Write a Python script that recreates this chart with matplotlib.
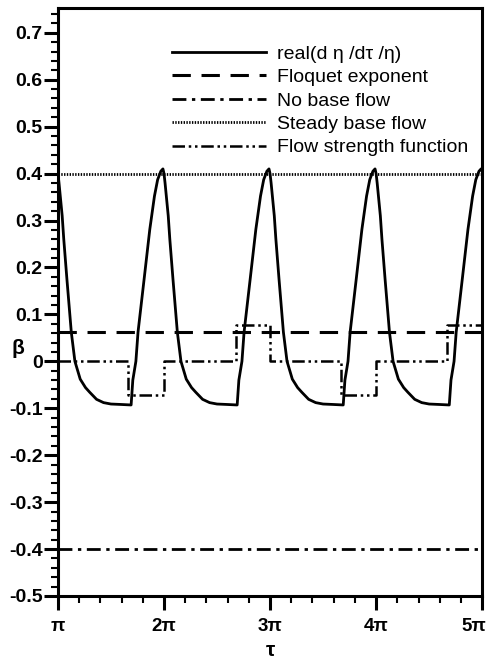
import numpy as np
import matplotlib
matplotlib.use("Agg")
import matplotlib.pyplot as plt
from matplotlib.ticker import FixedLocator, MultipleLocator, FuncFormatter
from matplotlib.transforms import ScaledTranslation

# tau is in units of pi
# one cycle of real(d eta/d tau / eta) (offset from k*pi)
cycle_offset = [0.0, 0.01, 0.025, 0.04, 0.055, 0.085, 0.126, 0.16, 0.21,
                0.26, 0.30, 0.364, 0.43, 0.50, 0.60, 0.69, 0.706, 0.735,
                0.755, 0.812, 0.866, 0.91, 0.94, 0.97, 0.99]
cycle_beta = [0.40, 0.38, 0.345, 0.31, 0.26, 0.174, 0.062, 0.0, -0.038,
              -0.056, -0.066, -0.081, -0.088, -0.091, -0.092, -0.093, -0.04, 0.0,
              0.062, 0.174, 0.281, 0.352, 0.387, 0.405, 0.41]
cycle_start = [1, 2, 3, 4]
end_tau = 5.0
end_beta = 0.405

floquet = 0.062
no_base_flow = -0.4
steady_base_flow = 0.4

# flow strength function (step)
strength_tau = [1.0, 1.665, 2.0, 2.675, 3.0, 3.67, 4.0, 4.67, 5.0]
strength_beta = [0.0, -0.072, 0.0, 0.077, 0.0, -0.072, 0.0, 0.077, 0.077]

labels = ["real(d \u03b7 /d\u03c4 /\u03b7)", "Floquet exponent", "No base flow",
          "Steady base flow", "Flow strength function"]

plt.rcParams["font.family"] = ["Liberation Sans", "DejaVu Sans"]

tau = []
beta = []
for k in cycle_start:
    tau += [k + o for o in cycle_offset]
    beta += cycle_beta
tau.append(end_tau)
beta.append(end_beta)
tau = np.array(tau) * np.pi

fig = plt.figure(figsize=(4.91, 6.60), dpi=100)
ax = fig.add_axes([0.118, 0.097, 0.864, 0.891])

ax.plot(tau, beta, color="black", lw=2.0, ls="-", label=labels[0])
ax.plot([np.pi, 5 * np.pi], [floquet, floquet], color="black", lw=2.2,
        ls=(0, (6, 3.5)), label=labels[1])
ax.plot([np.pi, 5 * np.pi], [no_base_flow, no_base_flow], color="black", lw=2.0,
        ls=(0, (5, 2, 1.2, 2)), label=labels[2])
ax.plot([np.pi, 5 * np.pi], [steady_base_flow, steady_base_flow], color="black",
        lw=2.0, ls=(0, (0.5, 0.5)), label=labels[3])
ax.plot(np.array(strength_tau) * np.pi, strength_beta, color="black", lw=1.8,
        ls=(0, (5, 1.5, 1, 1.5, 1, 1.5)), drawstyle="steps-post", label=labels[4])

ax.set_xlim(np.pi, 5 * np.pi)
ax.set_ylim(-0.5, 0.753)

ax.xaxis.set_major_locator(FixedLocator([k * np.pi for k in range(1, 6)]))
ax.xaxis.set_minor_locator(MultipleLocator(np.pi / 5))
ax.xaxis.set_major_formatter(FuncFormatter(
    lambda v, p: "\u03c0" if round(v / np.pi) == 1 else "%d\u03c0" % round(v / np.pi)))
ax.yaxis.set_major_locator(MultipleLocator(0.1))
ax.yaxis.set_minor_locator(MultipleLocator(0.02))
ax.yaxis.set_major_formatter(FuncFormatter(
    lambda v, p: "0" if abs(v) < 1e-9 else ("%.1f" % v)))

ax.tick_params(which="major", direction="out", length=10, width=2.2,
               labelsize=14, pad=1)
ax.tick_params(which="minor", direction="out", length=5, width=1.5)
ax.tick_params(axis="x", which="major", pad=6, labelsize=13.5)
for lab in ax.get_xticklabels() + ax.get_yticklabels():
    lab.set_fontweight("bold")
for sp in ax.spines.values():
    sp.set_linewidth(2.2)

# last tau label sits a little left of its tick so it stays inside the figure
last = ax.xaxis.get_major_ticks()[-1].label1
last.set_transform(last.get_transform() + ScaledTranslation(-6 / 72, 0, fig.dpi_scale_trans))

ax.set_xlabel("\u03c4", fontsize=15, fontweight="bold", labelpad=4)
ax.set_ylabel("\u03b2", fontsize=15, fontweight="bold", rotation=0)
ax.yaxis.set_label_coords(-0.095, 0.405)

ax.legend(loc="upper right", bbox_to_anchor=(1.0, 0.96), frameon=False,
          fontsize=14, handlelength=4.8, handletextpad=0.6, labelspacing=0.3,
          borderaxespad=0.3)

fig.savefig("out.png", dpi=100)
